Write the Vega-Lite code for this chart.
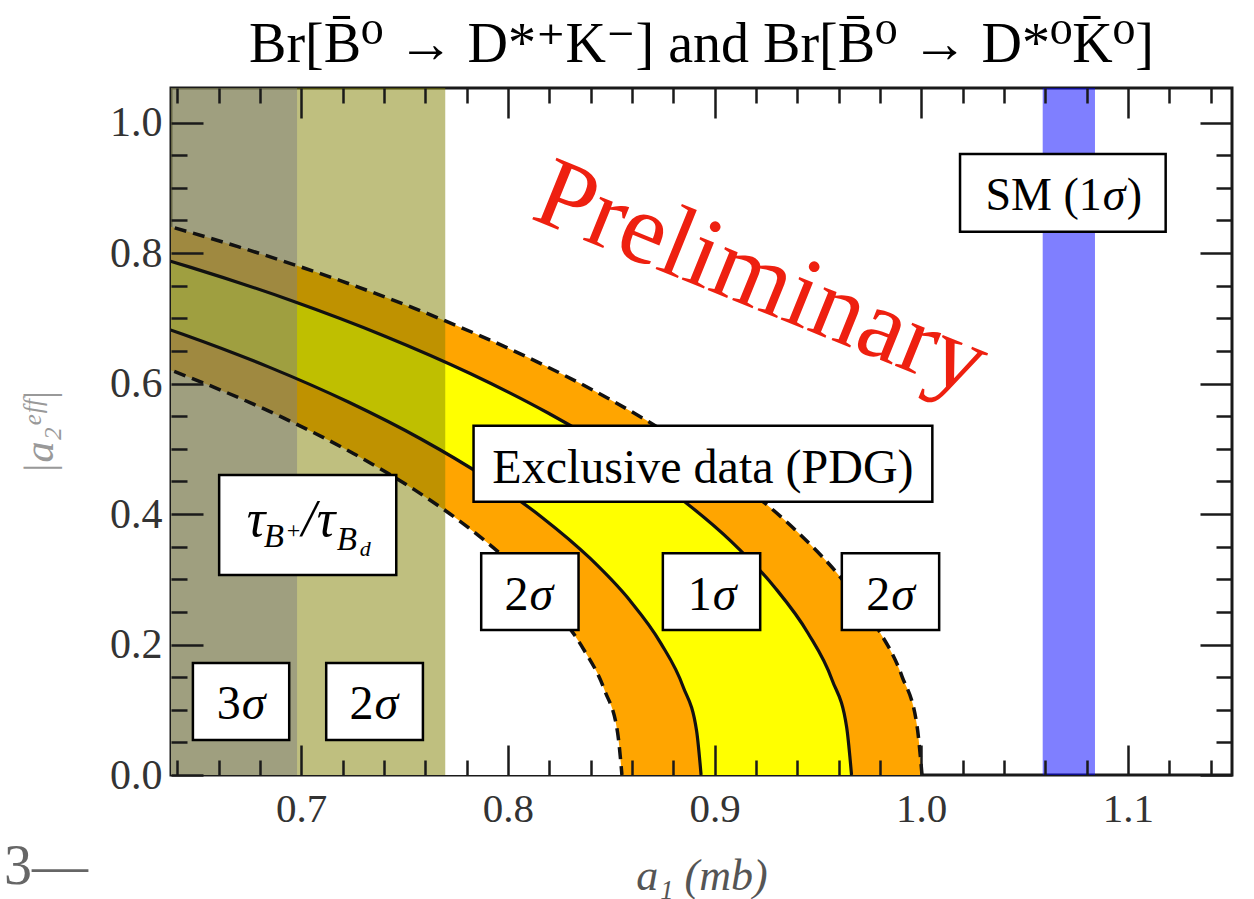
{
  "$schema": "https://vega.github.io/schema/vega-lite/v6.json",
  "width": 1061,
  "height": 687,
  "autosize": "none",
  "padding": {"left": 171, "top": 88, "right": 22, "bottom": 124},
  "background": "white",
  "config": {"view": {"stroke": "#1a1a1a", "strokeWidth": 3}},
  "title": {"text": "Br[B̄⁰ → D*⁺K⁻] and Br[B̄⁰ → D*⁰K̄⁰]", "font": "Liberation Serif, DejaVu Serif", "fontSize": 56, "fontWeight": "normal", "color": "#000000", "anchor": "middle", "baseline": "alphabetic", "offset": 24, "dy": 55},
  "datasets": {
    "curves": [
      {"c": "c1", "x": 1.0004, "y": 0}, {"c": "c1", "x": 0.99796, "y": 0.07602}, {"c": "c1", "x": 0.99067, "y": 0.15165}, {"c": "c1", "x": 0.97854, "y": 0.22656}, {"c": "c1", "x": 0.96164, "y": 0.30036}, {"c": "c1", "x": 0.94007, "y": 0.3727}, {"c": "c1", "x": 0.91392, "y": 0.44322}, {"c": "c1", "x": 0.8833, "y": 0.51158}, {"c": "c1", "x": 0.84839, "y": 0.57745}, {"c": "c1", "x": 0.80934, "y": 0.64052}, {"c": "c1", "x": 0.76635, "y": 0.70045}, {"c": "c1", "x": 0.71963, "y": 0.75697}, {"c": "c1", "x": 0.6694, "y": 0.8098}, {"c": "c1", "x": 0.63, "y": 0.8466},
      {"c": "c2", "x": 0.9663, "y": 0}, {"c": "c2", "x": 0.96394, "y": 0.07304}, {"c": "c2", "x": 0.9569, "y": 0.14571}, {"c": "c2", "x": 0.94519, "y": 0.21768}, {"c": "c2", "x": 0.92887, "y": 0.2886}, {"c": "c2", "x": 0.90803, "y": 0.35809}, {"c": "c2", "x": 0.88276, "y": 0.42586}, {"c": "c2", "x": 0.85319, "y": 0.49154}, {"c": "c2", "x": 0.81947, "y": 0.55483}, {"c": "c2", "x": 0.78176, "y": 0.61542}, {"c": "c2", "x": 0.74023, "y": 0.673}, {"c": "c2", "x": 0.6951, "y": 0.72731}, {"c": "c2", "x": 0.64658, "y": 0.77807}, {"c": "c2", "x": 0.63, "y": 0.7939},
      {"c": "c3", "x": 0.8935, "y": 0}, {"c": "c3", "x": 0.89132, "y": 0.06785}, {"c": "c3", "x": 0.88481, "y": 0.13536}, {"c": "c3", "x": 0.87398, "y": 0.20221}, {"c": "c3", "x": 0.85889, "y": 0.26809}, {"c": "c3", "x": 0.83961, "y": 0.33265}, {"c": "c3", "x": 0.81626, "y": 0.3956}, {"c": "c3", "x": 0.78892, "y": 0.45661}, {"c": "c3", "x": 0.75773, "y": 0.5154}, {"c": "c3", "x": 0.72286, "y": 0.57168}, {"c": "c3", "x": 0.68446, "y": 0.62518}, {"c": "c3", "x": 0.64273, "y": 0.67563}, {"c": "c3", "x": 0.63, "y": 0.6897},
      {"c": "c4", "x": 0.8552, "y": 0}, {"c": "c4", "x": 0.85311, "y": 0.06488}, {"c": "c4", "x": 0.84688, "y": 0.12943}, {"c": "c4", "x": 0.83651, "y": 0.19336}, {"c": "c4", "x": 0.82207, "y": 0.25635}, {"c": "c4", "x": 0.80362, "y": 0.31808}, {"c": "c4", "x": 0.78127, "y": 0.37827}, {"c": "c4", "x": 0.7551, "y": 0.43661}, {"c": "c4", "x": 0.72525, "y": 0.49283}, {"c": "c4", "x": 0.69187, "y": 0.54664}, {"c": "c4", "x": 0.65512, "y": 0.59779}, {"c": "c4", "x": 0.63, "y": 0.6289}
    ],
    "bands": [
      {"b": "olive", "x": 0.637, "x2": 0.7697},
      {"b": "gray", "x": 0.637, "x2": 0.698},
      {"b": "blue", "x": 1.0588, "x2": 1.0841}
    ],
    "boxes": [
      {"x": 1.0188, "x2": 1.1183, "y": 0.8326, "y2": 0.9517},
      {"x": 0.7834, "x2": 1.0054, "y": 0.4188, "y2": 0.5353},
      {"x": 0.7871, "x2": 0.8342, "y": 0.2222, "y2": 0.3398},
      {"x": 0.875, "x2": 0.9221, "y": 0.2222, "y2": 0.3398},
      {"x": 0.9616, "x2": 1.0087, "y": 0.2222, "y2": 0.3398},
      {"x": 0.6603, "x2": 0.746, "y": 0.3065, "y2": 0.4598},
      {"x": 0.6476, "x2": 0.6942, "y": 0.0536, "y2": 0.1716},
      {"x": 0.7121, "x2": 0.7589, "y": 0.0536, "y2": 0.1716}
    ],
    "sig": [
      {"x": 0.81, "y": 0.2529, "n": "2"},
      {"x": 0.8987, "y": 0.2529, "n": "1"},
      {"x": 0.985, "y": 0.2529, "n": "2"},
      {"x": 0.6708, "y": 0.0853, "n": "3"},
      {"x": 0.735, "y": 0.0853, "n": "2"}
    ],
    "sm": [{"x": 1.0874, "y": 0.8659}],
    "tau": [{"x": 0.6737, "y": 0.3663}],
    "exc": [{"x": 0.8944, "y": 0.448, "t": "Exclusive data (PDG)"}],
    "prelim": [{"x": 0.9172, "y": 0.717, "t": "Preliminary"}],
    "stray": [{"x": 0.5562, "y": -0.167, "t": "3—"}]
  },
  "layer": [
    {
      "data": {"name": "curves"},
      "transform": [{"filter": "datum.c === 'c1'"}],
      "mark": {"type": "area", "color": "#ffa500", "clip": true, "interpolate": "monotone"},
      "encoding": {
        "x": {"field": "x", "type": "quantitative", "scale": {"domain": [0.637, 1.1504], "nice": false, "zero": false},
          "axis": {"orient": "bottom", "values": [0.64, 0.66, 0.68, 0.7, 0.72, 0.74, 0.76, 0.78, 0.8, 0.82, 0.84, 0.86, 0.88, 0.9, 0.92, 0.94, 0.96, 0.98, 1.0, 1.02, 1.04, 1.06, 1.08, 1.1, 1.12, 1.14],
            "domain": false, "grid": false,
            "tickSize": {"condition": {"test": "abs(datum.value*10-round(datum.value*10))<0.001", "value": -30}, "value": -15},
            "tickWidth": 2.5, "tickColor": "#1a1a1a",
            "labelExpr": "abs(datum.value*10-round(datum.value*10))<0.001 ? format(datum.value, '.1f') : ''",
            "labelFont": "Liberation Serif", "labelFontSize": 41, "labelColor": "#333333", "labelPadding": 44,
            "labelOverlap": false, "labelFlush": false, "labelBound": false,
            "title": "a₁ (mb)", "titleFont": "Liberation Serif", "titleFontSize": 44, "titleFontStyle": "italic", "titleFontWeight": "normal", "titleColor": "#555555", "titlePadding": 10, "zindex": 1}},
        "y": {"field": "y", "type": "quantitative", "scale": {"domain": [0, 1.053], "nice": false, "zero": false},
          "axis": {"orient": "left", "values": [0, 0.05, 0.1, 0.15, 0.2, 0.25, 0.3, 0.35, 0.4, 0.45, 0.5, 0.55, 0.6, 0.65, 0.7, 0.75, 0.8, 0.85, 0.9, 0.95, 1.0],
            "domain": false, "grid": false,
            "tickSize": {"condition": {"test": "abs(datum.value*5-round(datum.value*5))<0.001", "value": -32}, "value": -16},
            "tickWidth": 2.5, "tickColor": "#1a1a1a",
            "labelExpr": "abs(datum.value*5-round(datum.value*5))<0.001 ? format(datum.value, '.1f') : ''",
            "labelFont": "Liberation Serif", "labelFontSize": 42, "labelColor": "#333333", "labelPadding": 41,
            "labelOverlap": false, "labelFlush": false, "labelBound": false,
            "title": "|a₂ᵉᶠᶠ|", "titleFont": "Liberation Serif", "titleFontSize": 42, "titleFontStyle": "italic", "titleFontWeight": "normal", "titleColor": "#999999", "titlePadding": 48, "zindex": 1}}
      }
    },
    {
      "data": {"name": "curves"},
      "transform": [{"filter": "datum.c === 'c2'"}],
      "mark": {"type": "area", "color": "#ffff00", "clip": true, "interpolate": "monotone"},
      "encoding": {
        "x": {"field": "x", "type": "quantitative", "scale": {"domain": [0.637, 1.1504], "nice": false, "zero": false},
          "axis": {"orient": "top", "values": [0.64, 0.66, 0.68, 0.7, 0.72, 0.74, 0.76, 0.78, 0.8, 0.82, 0.84, 0.86, 0.88, 0.9, 0.92, 0.94, 0.96, 0.98, 1.0, 1.02, 1.04, 1.06, 1.08, 1.1, 1.12, 1.14],
            "domain": false, "grid": false, "labels": false, "title": null,
            "tickSize": {"condition": {"test": "abs(datum.value*10-round(datum.value*10))<0.001", "value": -30}, "value": -15},
            "tickWidth": 2.5, "tickColor": "#1a1a1a", "zindex": 1}},
        "y": {"field": "y", "type": "quantitative", "scale": {"domain": [0, 1.053], "nice": false, "zero": false},
          "axis": {"orient": "right", "values": [0, 0.05, 0.1, 0.15, 0.2, 0.25, 0.3, 0.35, 0.4, 0.45, 0.5, 0.55, 0.6, 0.65, 0.7, 0.75, 0.8, 0.85, 0.9, 0.95, 1.0],
            "domain": false, "grid": false, "labels": false, "title": null,
            "tickSize": {"condition": {"test": "abs(datum.value*5-round(datum.value*5))<0.001", "value": -32}, "value": -16},
            "tickWidth": 2.5, "tickColor": "#1a1a1a", "zindex": 1}}
      }
    },
    {
      "data": {"name": "curves"},
      "transform": [{"filter": "datum.c === 'c3'"}],
      "mark": {"type": "area", "color": "#ffa500", "clip": true, "interpolate": "monotone"},
      "encoding": {
        "x": {"field": "x", "type": "quantitative", "scale": {"domain": [0.637, 1.1504], "nice": false, "zero": false}, "axis": null},
        "y": {"field": "y", "type": "quantitative", "scale": {"domain": [0, 1.053], "nice": false, "zero": false}, "axis": null}
      }
    },
    {
      "data": {"name": "curves"},
      "transform": [{"filter": "datum.c === 'c4'"}],
      "mark": {"type": "area", "color": "#ffffff", "clip": true, "interpolate": "monotone"},
      "encoding": {
        "x": {"field": "x", "type": "quantitative", "scale": {"domain": [0.637, 1.1504], "nice": false, "zero": false}, "axis": null},
        "y": {"field": "y", "type": "quantitative", "scale": {"domain": [0, 1.053], "nice": false, "zero": false}, "axis": null}
      }
    },
    {
      "data": {"name": "bands"},
      "mark": {"type": "rect", "opacity": 0.5, "clip": true},
      "encoding": {
        "x": {"field": "x", "type": "quantitative", "scale": {"domain": [0.637, 1.1504], "nice": false, "zero": false}, "axis": null},
        "x2": {"field": "x2"},
        "color": {"field": "b", "type": "nominal", "scale": {"domain": ["olive", "gray", "blue"], "range": ["#808000", "#808080", "#0000ff"]}, "legend": null}
      }
    },
    {
      "data": {"name": "curves"},
      "transform": [{"filter": "datum.c === 'c1' || datum.c === 'c4'"}],
      "mark": {"type": "line", "color": "#111111", "strokeWidth": 3.5, "strokeDash": [12, 7], "clip": true, "interpolate": "monotone"},
      "encoding": {
        "x": {"field": "x", "type": "quantitative", "scale": {"domain": [0.637, 1.1504], "nice": false, "zero": false}, "axis": null},
        "y": {"field": "y", "type": "quantitative", "scale": {"domain": [0, 1.053], "nice": false, "zero": false}, "axis": null},
        "detail": {"field": "c", "type": "nominal"}
      }
    },
    {
      "data": {"name": "curves"},
      "transform": [{"filter": "datum.c === 'c2' || datum.c === 'c3'"}],
      "mark": {"type": "line", "color": "#111111", "strokeWidth": 3.2, "clip": true, "interpolate": "monotone"},
      "encoding": {
        "x": {"field": "x", "type": "quantitative", "scale": {"domain": [0.637, 1.1504], "nice": false, "zero": false}, "axis": null},
        "y": {"field": "y", "type": "quantitative", "scale": {"domain": [0, 1.053], "nice": false, "zero": false}, "axis": null},
        "detail": {"field": "c", "type": "nominal"}
      }
    },
    {
      "data": {"name": "boxes"},
      "mark": {"type": "rect", "fill": "#ffffff", "stroke": "#000000", "strokeWidth": 2.5},
      "encoding": {
        "x": {"field": "x", "type": "quantitative", "scale": {"domain": [0.637, 1.1504], "nice": false, "zero": false}, "axis": null},
        "x2": {"field": "x2"},
        "y": {"field": "y", "type": "quantitative", "scale": {"domain": [0, 1.053], "nice": false, "zero": false}, "axis": null},
        "y2": {"field": "y2"}
      }
    },
    {
      "data": {"name": "exc"},
      "mark": {"type": "text", "font": "Liberation Serif", "fontSize": 48, "color": "#000000", "align": "center", "baseline": "alphabetic"},
      "encoding": {
        "x": {"field": "x", "type": "quantitative", "scale": {"domain": [0.637, 1.1504], "nice": false, "zero": false}, "axis": null},
        "y": {"field": "y", "type": "quantitative", "scale": {"domain": [0, 1.053], "nice": false, "zero": false}, "axis": null},
        "text": {"field": "t"}
      }
    },
    {
      "data": {"name": "sig"},
      "mark": {"type": "text", "font": "Liberation Serif", "fontSize": 48, "color": "#000000", "align": "right", "baseline": "alphabetic"},
      "encoding": {
        "x": {"field": "x", "type": "quantitative", "scale": {"domain": [0.637, 1.1504], "nice": false, "zero": false}, "axis": null},
        "y": {"field": "y", "type": "quantitative", "scale": {"domain": [0, 1.053], "nice": false, "zero": false}, "axis": null},
        "text": {"field": "n"}
      }
    },
    {
      "data": {"name": "sig"},
      "mark": {"type": "text", "font": "Liberation Serif", "fontSize": 48, "fontStyle": "italic", "color": "#000000", "align": "left", "baseline": "alphabetic", "dx": 1},
      "encoding": {
        "x": {"field": "x", "type": "quantitative", "scale": {"domain": [0.637, 1.1504], "nice": false, "zero": false}, "axis": null},
        "y": {"field": "y", "type": "quantitative", "scale": {"domain": [0, 1.053], "nice": false, "zero": false}, "axis": null},
        "text": {"value": "σ"}
      }
    },
    {
      "data": {"name": "sm"},
      "mark": {"type": "text", "font": "Liberation Serif", "fontSize": 46, "color": "#000000", "align": "right", "baseline": "alphabetic"},
      "encoding": {
        "x": {"field": "x", "type": "quantitative", "scale": {"domain": [0.637, 1.1504], "nice": false, "zero": false}, "axis": null},
        "y": {"field": "y", "type": "quantitative", "scale": {"domain": [0, 1.053], "nice": false, "zero": false}, "axis": null},
        "text": {"value": "SM (1"}
      }
    },
    {
      "data": {"name": "sm"},
      "mark": {"type": "text", "font": "Liberation Serif", "fontSize": 46, "fontStyle": "italic", "color": "#000000", "align": "left", "baseline": "alphabetic", "dx": 1},
      "encoding": {
        "x": {"field": "x", "type": "quantitative", "scale": {"domain": [0.637, 1.1504], "nice": false, "zero": false}, "axis": null},
        "y": {"field": "y", "type": "quantitative", "scale": {"domain": [0, 1.053], "nice": false, "zero": false}, "axis": null},
        "text": {"value": "σ"}
      }
    },
    {
      "data": {"name": "sm"},
      "mark": {"type": "text", "font": "Liberation Serif", "fontSize": 46, "color": "#000000", "align": "left", "baseline": "alphabetic", "dx": 25},
      "encoding": {
        "x": {"field": "x", "type": "quantitative", "scale": {"domain": [0.637, 1.1504], "nice": false, "zero": false}, "axis": null},
        "y": {"field": "y", "type": "quantitative", "scale": {"domain": [0, 1.053], "nice": false, "zero": false}, "axis": null},
        "text": {"value": ")"}
      }
    },
    {
      "data": {"name": "tau"},
      "layer": [
        {"mark": {"type": "text", "font": "Liberation Serif", "fontSize": 52, "fontStyle": "italic", "color": "#000000", "align": "left", "baseline": "alphabetic", "dx": 0}, "encoding": {"text": {"value": "τ"}}},
        {"mark": {"type": "text", "font": "Liberation Serif", "fontSize": 33, "fontStyle": "italic", "color": "#000000", "align": "left", "baseline": "alphabetic", "dx": 17, "dy": 11}, "encoding": {"text": {"value": "B"}}},
        {"mark": {"type": "text", "font": "Liberation Serif", "fontSize": 24, "color": "#000000", "align": "left", "baseline": "alphabetic", "dx": 40, "dy": 2}, "encoding": {"text": {"value": "+"}}},
        {"mark": {"type": "text", "font": "Liberation Serif", "fontSize": 52, "fontStyle": "italic", "color": "#000000", "align": "left", "baseline": "alphabetic", "dx": 55}, "encoding": {"text": {"value": "/"}}},
        {"mark": {"type": "text", "font": "Liberation Serif", "fontSize": 52, "fontStyle": "italic", "color": "#000000", "align": "left", "baseline": "alphabetic", "dx": 70}, "encoding": {"text": {"value": "τ"}}},
        {"mark": {"type": "text", "font": "Liberation Serif", "fontSize": 33, "fontStyle": "italic", "color": "#000000", "align": "left", "baseline": "alphabetic", "dx": 90, "dy": 14}, "encoding": {"text": {"value": "B"}}},
        {"mark": {"type": "text", "font": "Liberation Serif", "fontSize": 22, "fontStyle": "italic", "color": "#000000", "align": "left", "baseline": "alphabetic", "dx": 113, "dy": 20}, "encoding": {"text": {"value": "d"}}}
      ],
      "encoding": {
        "x": {"field": "x", "type": "quantitative", "scale": {"domain": [0.637, 1.1504], "nice": false, "zero": false}, "axis": null},
        "y": {"field": "y", "type": "quantitative", "scale": {"domain": [0, 1.053], "nice": false, "zero": false}, "axis": null}
      }
    },
    {
      "data": {"name": "prelim"},
      "mark": {"type": "text", "font": "Liberation Serif", "fontSize": 101, "color": "#ee2010", "align": "center", "baseline": "alphabetic", "angle": 22},
      "encoding": {
        "x": {"field": "x", "type": "quantitative", "scale": {"domain": [0.637, 1.1504], "nice": false, "zero": false}, "axis": null},
        "y": {"field": "y", "type": "quantitative", "scale": {"domain": [0, 1.053], "nice": false, "zero": false}, "axis": null},
        "text": {"field": "t"}
      }
    },
    {
      "data": {"name": "stray"},
      "mark": {"type": "text", "font": "Liberation Serif", "fontSize": 56, "color": "#666666", "align": "left", "baseline": "alphabetic", "clip": false},
      "encoding": {
        "x": {"field": "x", "type": "quantitative", "scale": {"domain": [0.637, 1.1504], "nice": false, "zero": false}, "axis": null},
        "y": {"field": "y", "type": "quantitative", "scale": {"domain": [0, 1.053], "nice": false, "zero": false}, "axis": null},
        "text": {"field": "t"}
      }
    }
  ],
  "resolve": {"axis": {"x": "independent", "y": "independent"}}
}
